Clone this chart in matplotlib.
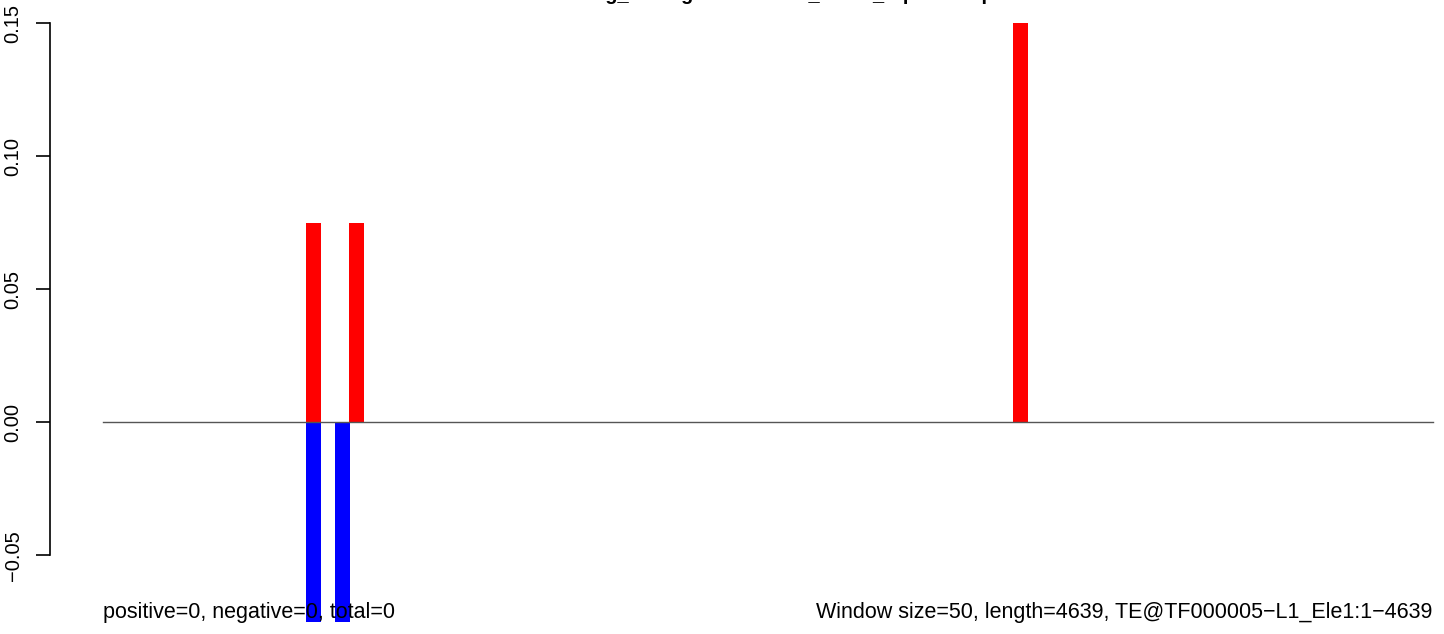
import numpy as np
import matplotlib
matplotlib.use("Agg")
from matplotlib import pyplot as plt

plt.rcParams['font.family'] = ['Liberation Sans', 'DejaVu Sans']

# podaci procitani sa slike (pozicije prozora u bp)
seq_len = 4639
win_size = 50
red_pos = [734, 884, 3201]
red_val = [0.075, 0.075, 0.15]
blue_pos = [734, 835]
blue_val = [-0.075, -0.075]
y_ticks = [-0.05, 0.0, 0.05, 0.10, 0.15]
y_labels = ["\u22120.05", "0.00", "0.05", "0.10", "0.15"]
title = "Binding_average of TE ratio_reads_top TE loop"
left_text = "positive=0, negative=0, total=0"
right_text = f"Window size={win_size}, length={seq_len}, TE@TF000005\u2212L1_Ele1:1\u2212{seq_len}"

W, H = 1444, 634
fig = plt.figure(figsize=(W / 100, H / 100), dpi=100)

# raspon osi kao u R-u (4% prosirenje)
x0, x1 = -0.04 * seq_len, 1.04 * seq_len
y0, y1 = -0.084, 0.159
px_l, px_r = 49.8, 1485.9
px_top, px_bot = -0.8, 645.9
ax = fig.add_axes([px_l / W, 1 - px_bot / H, (px_r - px_l) / W, (px_bot - px_top) / H])
ax.set_xlim(x0, x1)
ax.set_ylim(y0, y1)

bar_w = 51
ax.bar(red_pos, red_val, width=bar_w, color='red', zorder=2)
ax.bar(blue_pos, blue_val, width=bar_w, color='blue', zorder=2)
ax.plot([0, seq_len], [0, 0], color='#555555', lw=1.0, zorder=3)

for s in ['top', 'right', 'bottom']:
    ax.spines[s].set_visible(False)
ax.spines['left'].set_bounds(-0.05, 0.15)
ax.spines['left'].set_linewidth(1.2)
ax.set_xticks([])
ax.set_yticks(y_ticks)
ax.set_yticklabels(y_labels, rotation=90, va='center', fontsize=14.5)
ax.tick_params(axis='y', length=10, width=1.2, pad=9.5)

ax.text(0, -0.0716, left_text, ha='left', va='center', fontsize=15.5, zorder=4)
ax.text(seq_len, -0.0716, right_text, ha='right', va='center', fontsize=15.5, zorder=4)

# naslov je odrezan na vrhu slike, vide se samo donji dijelovi slova
fig.text(768 / W, 1 + 0.5 / H, title, ha='center', va='baseline',
         fontsize=14.4, fontweight='bold')

fig.savefig("out.png", dpi=100)
